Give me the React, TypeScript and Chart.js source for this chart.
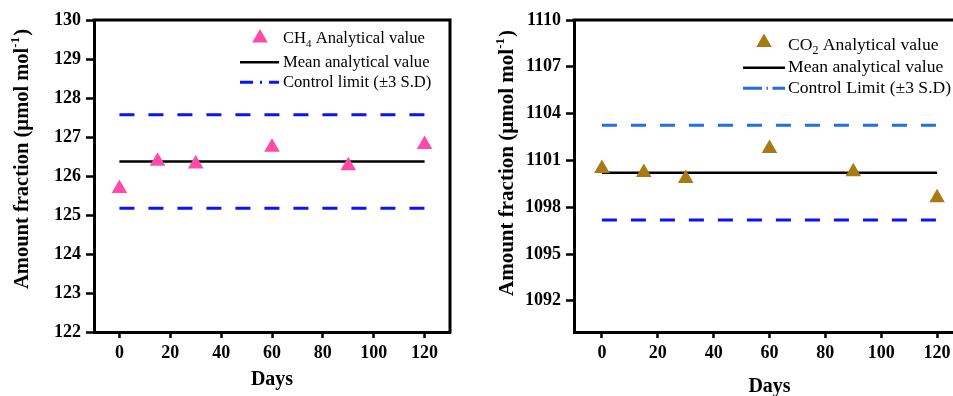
import { useEffect, useRef } from "react";
import { Chart, registerables } from "chart.js";

Chart.register(...registerables);

// ---------- data ----------
const days = [0, 15, 30, 60, 90, 120];
const lineDays = [0, 120];
const xTicks = [0, 20, 40, 60, 80, 100, 120];

const ch4Values = [125.68, 126.38, 126.31, 126.74, 126.26, 126.81];
const ch4Mean = 126.37;
const ch4Upper = 127.57;
const ch4Lower = 125.17;
const ch4YTicks = [122, 123, 124, 125, 126, 127, 128, 129, 130];

const co2Values = [1100.48, 1100.22, 1099.84, 1101.76, 1100.27, 1098.6];
const co2Mean = 1100.21;
const co2Upper = 1103.25;
const co2Lower = 1097.18;
const co2YTicks = [1092, 1095, 1098, 1101, 1104, 1107, 1110];

const ch4Legend = ["CH", "4", " Analytical value", "Mean analytical value", "Control limit (\u00b13 S.D)"];
const co2Legend = ["CO", "2", " Analytical value", "Mean analytical value", "Control Limit (\u00b13 S.D)"];
const yTitle = ["Amount fraction (\u00b5mol mol", "-1", ")"];
const xTitle = "Days";

const SERIF = "'Liberation Serif', 'Times New Roman', serif";

type Cfg = {
  values: number[];
  mean: number;
  upper: number;
  lower: number;
  yMin: number;
  yMax: number;
  yTicks: number[];
  marker: string;
  upperColor: string;
  lowerColor: string;
  legendText: string[];
  padRight: number;
  rightBorder: boolean;
  yTitleX: number;
  yTitleY: number;
  yTitleSize: number;
  xTitleY: number;
  lg: {
    triX: number; triY: number; textX: number;
    b1: number; b2: number; b3: number;
    lx1: number; lx2: number; l2: number; l3: number;
    size: number; dash: number[]; dashColor: string;
  };
};

function triangle(ctx: CanvasRenderingContext2D, x: number, y: number, r: number) {
  let rad = 0;
  ctx.beginPath();
  ctx.moveTo(x + Math.sin(rad) * r, y - Math.cos(rad) * r);
  rad += (Math.PI * 2) / 3;
  ctx.lineTo(x + Math.sin(rad) * r, y - Math.cos(rad) * r);
  rad += (Math.PI * 2) / 3;
  ctx.lineTo(x + Math.sin(rad) * r, y - Math.cos(rad) * r);
  ctx.closePath();
  ctx.fill();
}

function makeChart(canvas: HTMLCanvasElement, c: Cfg) {
  const decor = {
    id: "decor",
    afterDraw(chart: any) {
      const { ctx, chartArea: a } = chart;
      ctx.save();
      // frame
      ctx.strokeStyle = "#000";
      ctx.lineWidth = 3;
      ctx.lineCap = "square";
      ctx.beginPath();
      ctx.moveTo(a.left, a.top);
      ctx.lineTo(a.right, a.top);
      if (c.rightBorder) ctx.lineTo(a.right, a.bottom);
      ctx.stroke();

      // y title
      ctx.fillStyle = "#000";
      ctx.textBaseline = "alphabetic";
      ctx.textAlign = "left";
      const big = `bold ${c.yTitleSize}px ${SERIF}`;
      const small = `bold ${Math.round(c.yTitleSize * 0.62)}px ${SERIF}`;
      ctx.font = big;
      const w1 = ctx.measureText(yTitle[0]).width;
      const w3 = ctx.measureText(yTitle[2]).width;
      ctx.font = small;
      const w2 = ctx.measureText(yTitle[1]).width;
      const tot = w1 + w2 + w3 + 1;
      ctx.save();
      ctx.translate(c.yTitleX, c.yTitleY);
      ctx.rotate(-Math.PI / 2);
      let px = -tot / 2;
      ctx.font = big;
      ctx.fillText(yTitle[0], px, 0);
      px += w1;
      ctx.font = small;
      ctx.fillText(yTitle[1], px, -c.yTitleSize * 0.42);
      px += w2 + 1;
      ctx.font = big;
      ctx.fillText(yTitle[2], px, 0);
      ctx.restore();

      // x title
      ctx.font = `bold 20px ${SERIF}`;
      ctx.textAlign = "center";
      ctx.fillText(xTitle, (a.left + a.right) / 2, c.xTitleY);

      // legend
      const L = c.lg;
      ctx.fillStyle = c.marker;
      triangle(ctx, L.triX, L.triY, 9);
      ctx.fillStyle = "#000";
      ctx.textAlign = "left";
      const lf = `${L.size}px ${SERIF}`;
      const sf = `${Math.round(L.size * 0.68)}px ${SERIF}`;
      ctx.font = lf;
      let tx = L.textX;
      ctx.fillText(c.legendText[0], tx, L.b1);
      tx += ctx.measureText(c.legendText[0]).width;
      ctx.font = sf;
      ctx.fillText(c.legendText[1], tx, L.b1 + L.size * 0.25);
      tx += ctx.measureText(c.legendText[1]).width;
      ctx.font = lf;
      ctx.fillText(c.legendText[2], tx, L.b1);
      ctx.fillText(c.legendText[3], L.textX, L.b2);
      ctx.fillText(c.legendText[4], L.textX, L.b3);

      ctx.lineCap = "butt";
      ctx.strokeStyle = "#000";
      ctx.lineWidth = 2.5;
      ctx.beginPath();
      ctx.moveTo(L.lx1, L.l2);
      ctx.lineTo(L.lx2, L.l2);
      ctx.stroke();
      ctx.strokeStyle = L.dashColor;
      ctx.lineWidth = 3;
      ctx.setLineDash(L.dash);
      ctx.beginPath();
      ctx.moveTo(L.lx1, L.l3);
      ctx.lineTo(L.lx2, L.l3);
      ctx.stroke();
      ctx.restore();
    },
  };

  const seg = (v: number) => lineDays.map((d) => ({ x: d, y: v }));
  const tickFont = { family: SERIF, size: 18, weight: "bold" as const };

  return new Chart(canvas, {
    type: "scatter",
    data: {
      datasets: [
        {
          data: days.map((d, i) => ({ x: d, y: c.values[i] })),
          pointStyle: "triangle",
          pointRadius: 9,
          backgroundColor: c.marker,
          borderWidth: 0,
        },
        {
          data: seg(c.mean),
          showLine: true,
          borderColor: "#000",
          borderWidth: 2.5,
          pointRadius: 0,
        },
        {
          data: seg(c.upper),
          showLine: true,
          borderColor: c.upperColor,
          borderWidth: 3,
          borderDash: [15, 14],
          pointRadius: 0,
        },
        {
          data: seg(c.lower),
          showLine: true,
          borderColor: c.lowerColor,
          borderWidth: 3,
          borderDash: [15, 14],
          pointRadius: 0,
        },
      ] as any,
    },
    options: {
      animation: false,
      responsive: false,
      events: [],
      layout: { padding: { top: 20, right: c.padRight, left: 0, bottom: 0 } },
      plugins: { legend: { display: false }, tooltip: { enabled: false } },
      scales: {
        x: {
          type: "linear",
          min: -10,
          max: 130,
          afterBuildTicks: (s: any) => {
            s.ticks = xTicks.map((v) => ({ value: v }));
          },
          afterFit: (s: any) => {
            s.height = 64;
          },
          grid: { drawOnChartArea: false, drawTicks: true, tickLength: 6, tickWidth: 2.5, tickColor: "#000" },
          border: { display: true, width: 3, color: "#000" },
          ticks: { color: "#000", font: tickFont, padding: 5, maxRotation: 0, callback: (v: any) => String(v) },
        },
        y: {
          type: "linear",
          min: c.yMin,
          max: c.yMax,
          afterBuildTicks: (s: any) => {
            s.ticks = c.yTicks.map((v) => ({ value: v }));
          },
          afterFit: (s: any) => {
            s.width = 94;
          },
          grid: { drawOnChartArea: false, drawTicks: true, tickLength: 8, tickWidth: 2.5, tickColor: "#000" },
          border: { display: true, width: 3, color: "#000" },
          ticks: { color: "#000", font: tickFont, padding: 5, callback: (v: any) => String(v) },
        },
      },
    } as any,
    plugins: [decor],
  });
}

export default function App() {
  const leftRef = useRef<HTMLCanvasElement>(null);
  const rightRef = useRef<HTMLCanvasElement>(null);

  useEffect(() => {
    const left = makeChart(leftRef.current!, {
      values: ch4Values,
      mean: ch4Mean,
      upper: ch4Upper,
      lower: ch4Lower,
      yMin: 122,
      yMax: 130,
      yTicks: ch4YTicks,
      marker: "#ff4aa8",
      upperColor: "#0a14f5",
      lowerColor: "#0a14f5",
      legendText: ch4Legend,
      padRight: 30,
      rightBorder: true,
      yTitleX: 28,
      yTitleY: 159,
      yTitleSize: 20.5,
      xTitleY: 385,
      lg: {
        triX: 260, triY: 38, textX: 283,
        b1: 43, b2: 66.7, b3: 86.7,
        lx1: 240, lx2: 279, l2: 62.3, l3: 82.3,
        size: 16.6, dash: [13, 7, 2, 7], dashColor: "#0a14f5",
      },
    });
    const right = makeChart(rightRef.current!, {
      values: co2Values,
      mean: co2Mean,
      upper: co2Upper,
      lower: co2Lower,
      yMin: 1090,
      yMax: 1110,
      yTicks: co2YTicks,
      marker: "#a87a14",
      upperColor: "#1f6fe6",
      lowerColor: "#0a14f5",
      legendText: co2Legend,
      padRight: 15,
      rightBorder: false,
      yTitleX: 33,
      yTitleY: 163,
      yTitleSize: 21,
      xTitleY: 392,
      lg: {
        triX: 284, triY: 42.4, textX: 308,
        b1: 50, b2: 72.3, b3: 93.3,
        lx1: 263, lx2: 305, l2: 67.7, l3: 88.3,
        size: 17.6, dash: [19, 4.5, 1.5, 4.5], dashColor: "#1f6fe6",
      },
    });
    return () => {
      left.destroy();
      right.destroy();
    };
  }, []);

  return (
    <div
      style={{
        position: "fixed",
        left: 0,
        top: 0,
        width: 953,
        height: 396,
        overflow: "hidden",
        background: "#fff",
      }}
    >
      <canvas ref={leftRef} width={480} height={396} style={{ position: "absolute", left: 0, top: 0 }} />
      <canvas ref={rightRef} width={500} height={396} style={{ position: "absolute", left: 480, top: 0 }} />
    </div>
  );
}
